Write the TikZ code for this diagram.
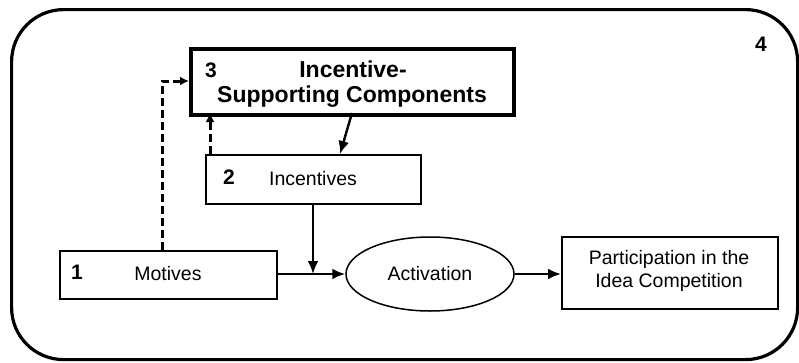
\documentclass[tikz,border=0pt]{standalone}
\usepackage{fontspec}
\setmainfont{Liberation Sans}
\usetikzlibrary{arrows.meta,shapes.geometric}
\begin{document}
\begin{tikzpicture}[x=1pt,y=-1pt,
  txt/.style={font=\fontsize{19.5}{23}\selectfont},
  num/.style={font=\fontsize{21}{24}\bfseries\selectfont},
  boxthin/.style={draw, line width=1.5pt},
  conn/.style={line width=2.4pt, -{Latex[length=13pt,width=11pt]}},
  dconn/.style={line width=3pt, dash pattern=on 8pt off 4pt, -{Latex[length=9pt,width=9pt]}}]
\useasboundingbox (0,0) rectangle (799,362);
\node[draw, line width=3.2pt, rounded corners=52pt, minimum width=786pt, minimum height=350pt, anchor=north west] (frame) at (10,8) {};
\node[num] (n4) at (761,44) {4};
% box 3
\node[draw, line width=3.5pt, minimum width=323pt, minimum height=66pt, anchor=north west] (b3) at (189,47) {};
\node[num] (n3) at (211,70) {3};
\node[font=\fontsize{23}{27}\bfseries\selectfont] (t3a) at (353,69) {Incentive-};
\node[font=\fontsize{23}{27}\bfseries\selectfont] (t3b) at (352,97) {Supporting Components};
% box 2
\node[boxthin, minimum width=215pt, minimum height=49pt, anchor=north west] (b2) at (205,154) {};
\node[num] (n2) at (229,177) {2};
\node[txt] (t2) at (313,179) {Incentives};
% box 1
\node[boxthin, minimum width=217pt, minimum height=48pt, anchor=north west] (b1) at (59,250) {};
\node[num] (n1) at (77,272) {1};
\node[txt] (t1) at (168,274) {Motives};
% ellipse
\node[draw, line width=1.5pt, ellipse, minimum width=168pt, minimum height=74pt, txt] (act) at (430,274) {Activation};
% participation
\node[boxthin, minimum width=216pt, minimum height=72pt, anchor=north west] (b5) at (561,236) {};
\node[txt, align=center] (t5) at (669,271) {Participation in the\\Idea Competition};
% connectors
\coordinate (j) at (313,274);
\draw[conn] (b1.east |- act.west) -- (act.west);
\draw[conn] (b2.south -| j) -- (j);
\draw[conn] (act.east) -- (b5.west |- act.east);
\draw[conn] (352,113) -- (340,154);
\draw[dconn] (210,154) -- (210,113);
\draw[dconn] (162,250) -- (162,81) -- (b3.west |- 0,81);
\end{tikzpicture}
\end{document}
